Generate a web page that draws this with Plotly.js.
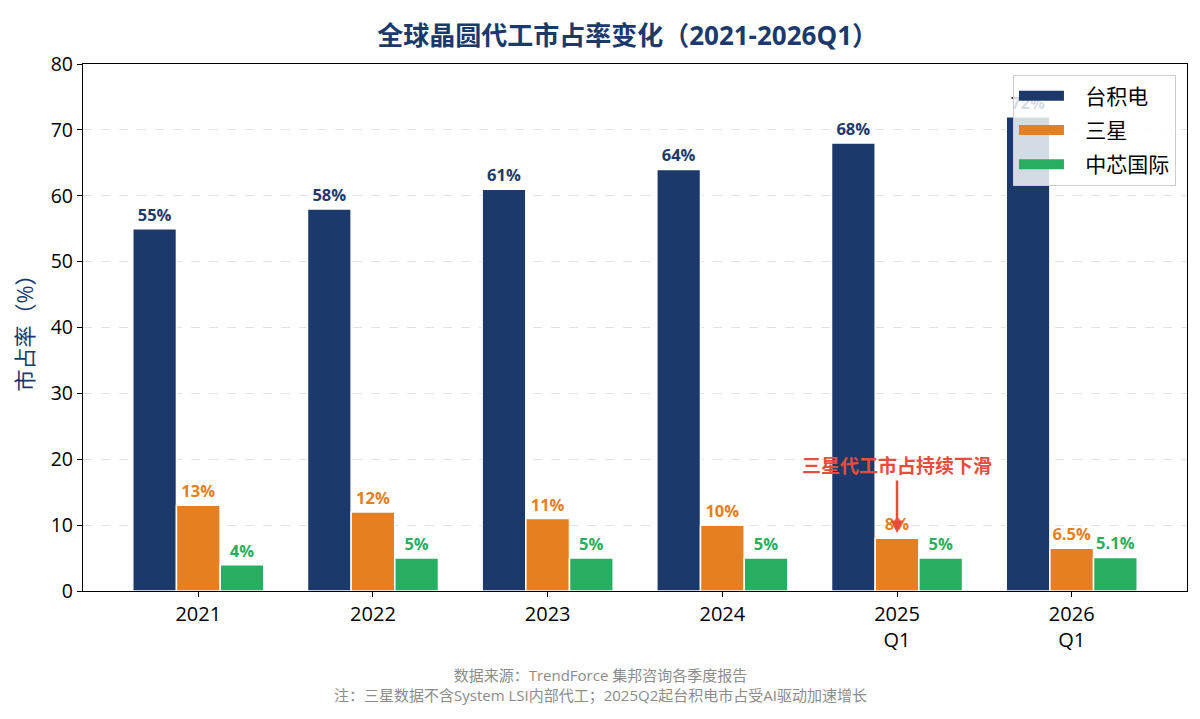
<!DOCTYPE html>
<html>
<head>
<meta charset="utf-8">
<script src="https://cdn.plot.ly/plotly-3.0.1.min.js"></script>
<style>
  html, body { margin: 0; padding: 0; background: #fff; }
  #chart { width: 1200px; height: 719px; }
</style>
</head>
<body>
<div id="chart"></div>
<script>
const categories = ['2021', '2022', '2023', '2024', '2025<br>Q1', '2026<br>Q1']
const tsmc = [55, 58, 61, 64, 68, 72]
const samsung = [13, 12, 11, 10, 8, 6.5]
const smic = [4, 5, 5, 5, 5, 5.1]
const seriesNames = ['台积电', '三星', '中芯国际']
const yTicks = [0, 10, 20, 30, 40, 50, 60, 70, 80]

const FONT = '"Open Sans", "Noto Sans CJK SC", "Noto Sans", sans-serif'
const colors = ['#1b3a6b', '#e67e22', '#27ae60']

const makeBar = (name, values, color) => ({
  type: 'bar',
  name,
  legendgroup: name,
  showlegend: false,
  x: categories,
  y: values,
  text: values.map(v => v + '%'),
  textposition: 'outside',
  cliponaxis: false,
  textfont: { family: FONT, size: 16.5, color, weight: 'bold' },
  marker: { color, line: { color: '#ffffff', width: 1.5 } },
  hoverinfo: 'x+y+name',
})

// legend-only entries so the key shows wide swatches like the original
const makeKey = (name, color) => ({
  type: 'scatter',
  mode: 'lines',
  name: '\u00a0\u00a0\u00a0' + name,
  legendgroup: name,
  x: [null],
  y: [null],
  line: { color, width: 14 },
  hoverinfo: 'skip',
})

const data = [
  makeBar(seriesNames[0], tsmc, colors[0]),
  makeBar(seriesNames[1], samsung, colors[1]),
  makeBar(seriesNames[2], smic, colors[2]),
  makeKey(seriesNames[0], colors[0]),
  makeKey(seriesNames[1], colors[1]),
  makeKey(seriesNames[2], colors[2]),
]

const layout = {
  width: 1200,
  height: 719,
  margin: { l: 83, r: 13, t: 64, b: 128 },
  paper_bgcolor: '#ffffff',
  plot_bgcolor: '#ffffff',
  font: { family: FONT, color: '#000000' },
  barmode: 'group',
  bargap: 0.25,
  bargroupgap: 0,
  title: {
    text: '全球晶圆代工市占率变化（2021-2026Q1）',
    x: 0.523,
    xanchor: 'center',
    y: 0.963,
    font: { family: FONT, size: 26, color: '#1b3a6b', weight: 'bold' },
  },
  xaxis: {
    type: 'category',
    range: [-0.66, 5.66],
    showline: true,
    linecolor: '#000000',
    linewidth: 1.2,
    mirror: true,
    ticks: 'outside',
    ticklen: 5,
    tickcolor: '#000000',
    tickfont: { family: FONT, size: 20, color: '#000000' },
    showgrid: false,
  },
  yaxis: {
    range: [0, 80],
    tickvals: yTicks,
    showline: true,
    linecolor: '#000000',
    linewidth: 1.2,
    mirror: true,
    ticks: 'outside',
    ticklen: 5,
    tickcolor: '#000000',
    tickfont: { family: FONT, size: 19.5, color: '#000000' },
    gridcolor: '#e3e3e3',
    griddash: 'dash',
    zeroline: false,
    title: {
      text: '市占率（%）',
      standoff: 10,
      font: { family: FONT, size: 22, color: '#1b3a6b' },
    },
  },
  legend: {
    x: 0.99,
    y: 0.98,
    xanchor: 'right',
    yanchor: 'top',
    bgcolor: 'rgba(255,255,255,0.82)',
    bordercolor: '#cccccc',
    borderwidth: 1,
    font: { family: FONT, size: 21, color: '#000000' },
    itemwidth: 45,
    tracegroupgap: 4,
  },
  annotations: [
    {
      x: categories[4],
      y: 8.8,
      xref: 'x',
      yref: 'y',
      text: '三星代工市占持续下滑',
      showarrow: true,
      arrowhead: 2,
      arrowsize: 1,
      arrowwidth: 2.5,
      arrowcolor: '#e74c3c',
      ax: 0,
      ay: -67,
      font: { family: FONT, size: 19, color: '#e74c3c', weight: 'bold' },
    },
    {
      x: (600 - 83) / 1104,
      y: 0,
      xref: 'paper',
      yref: 'paper',
      xanchor: 'center',
      yanchor: 'top',
      yshift: -72,
      showarrow: false,
      align: 'center',
      text: '数据来源：TrendForce 集邦咨询各季度报告<br>注：三星数据不含System LSI内部代工；2025Q2起台积电市占受AI驱动加速增长',
      font: { family: FONT, size: 15, color: '#8c8c8c' },
    },
  ],
  showlegend: true,
}

const config = {
  displayModeBar: false,
  displaylogo: false,
}

Plotly.newPlot('chart', data, layout, config)
</script>
</body>
</html>
